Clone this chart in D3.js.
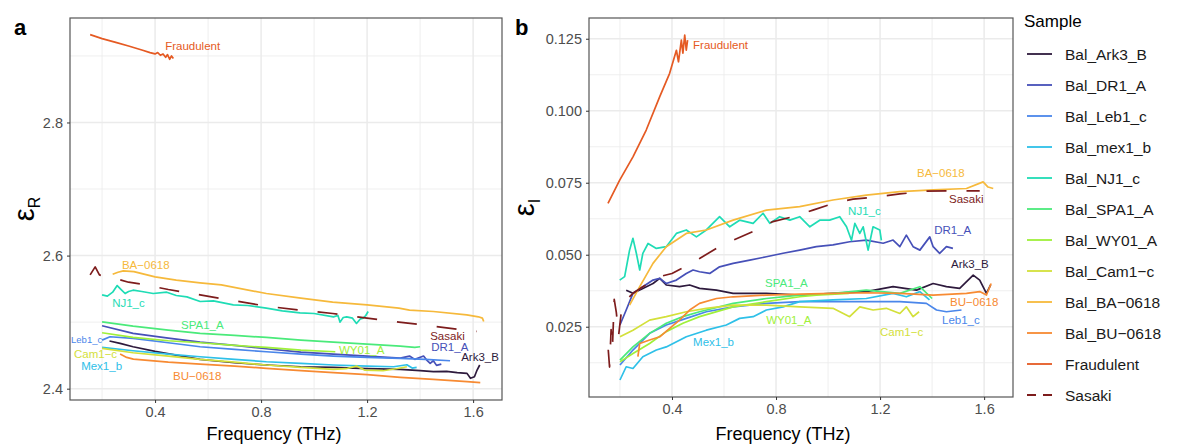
<!DOCTYPE html>
<html>
<head>
<meta charset="utf-8">
<script src="https://cdn.jsdelivr.net/npm/d3@7"></script>
<style>
  body { margin: 0; background: #fff; }
  svg { display: block; font-family: "Liberation Sans", Arial, Helvetica, sans-serif; }
</style>
</head>
<body>
<svg id="chart" width="1179" height="447"></svg>
<script>
const samples = ["Bal_Ark3_B", "Bal_DR1_A", "Bal_Leb1_c", "Bal_mex1_b", "Bal_NJ1_c", "Bal_SPA1_A",
  "Bal_WY01_A", "Bal_Cam1-c", "Bal_BA-0618", "Bal_BU-0618", "Fraudulent", "Sasaki"];
const colors = ["#2e1a3d", "#4650b8", "#4a86ea", "#2ec0e8", "#1fdcb5", "#4aea7a",
  "#9ff03a", "#d3e03a", "#f6b93b", "#f78a32", "#e55a23", "#7d1c1c"];

const freqTicks = [0.4, 0.8, 1.2, 1.6];
const freqMinor = [0.2, 0.6, 1.0, 1.4];
const erTicks = [2.4, 2.6, 2.8];
const erMinor = [2.5, 2.7, 2.9];
const eiTicks = [0.025, 0.05, 0.075, 0.1, 0.125];
const eiMinor = [0.0125, 0.0375, 0.0625, 0.0875, 0.1125];

// panel a: real permittivity [THz, eps_R]
const erArk3 = [[0.228,2.4716],[0.268,2.468],[0.317,2.463],[0.4,2.456],[0.5,2.449],[0.57,2.444],[0.7,2.439],[0.82,2.4356],[0.95,2.433],[1.073,2.432],[1.2,2.43],[1.325,2.429],[1.4,2.427],[1.45,2.4255],[1.5,2.426],[1.54,2.424],[1.577,2.423],[1.59,2.4156],[1.605,2.418],[1.615,2.428],[1.625,2.4356]];
const erDR1 = [[0.2,2.4945],[0.317,2.483],[0.45,2.476],[0.57,2.47],[0.7,2.465],[0.82,2.46],[0.95,2.455],[1.073,2.452],[1.2,2.449],[1.325,2.446],[1.36,2.449],[1.38,2.444],[1.413,2.449],[1.425,2.443],[1.438,2.438],[1.45,2.442],[1.462,2.435],[1.48,2.437]];
const erLeb1 = [[0.2,2.473],[0.23,2.478],[0.317,2.4756],[0.45,2.469],[0.57,2.463],[0.7,2.459],[0.82,2.4555],[0.95,2.452],[1.073,2.449],[1.2,2.447],[1.325,2.4456],[1.42,2.444],[1.513,2.442]];
const erMex1 = [[0.2,2.462],[0.317,2.457],[0.45,2.452],[0.57,2.448],[0.7,2.444],[0.82,2.4405],[0.95,2.438],[1.073,2.4356],[1.2,2.434],[1.3,2.433],[1.35,2.436],[1.37,2.431],[1.387,2.432]];
const erNJ1 = [[0.2,2.541],[0.22,2.539],[0.24,2.545],[0.257,2.555],[0.272,2.549],[0.287,2.543],[0.3,2.546],[0.317,2.548],[0.35,2.546],[0.393,2.543],[0.444,2.545],[0.48,2.54],[0.52,2.538],[0.57,2.531],[0.62,2.532],[0.695,2.526],[0.75,2.525],[0.82,2.521],[0.88,2.517],[0.947,2.514],[1.0,2.513],[1.073,2.508],[1.09,2.51],[1.098,2.5],[1.11,2.507],[1.123,2.508],[1.145,2.506],[1.16,2.498],[1.175,2.505],[1.185,2.506],[1.195,2.51],[1.204,2.516]];
const erSPA1 = [[0.2,2.5005],[0.317,2.494],[0.45,2.488],[0.57,2.483],[0.7,2.48],[0.82,2.477],[0.95,2.473],[1.073,2.47],[1.2,2.467],[1.325,2.464],[1.38,2.462],[1.4,2.463]];
const erWY01 = [[0.2,2.484],[0.317,2.477],[0.45,2.472],[0.57,2.469],[0.7,2.465],[0.82,2.462],[0.95,2.458],[1.08,2.4555]];
const erCam1 = [[0.2,2.4606],[0.317,2.454],[0.45,2.449],[0.57,2.444],[0.7,2.44],[0.82,2.4356],[0.95,2.432],[1.073,2.429],[1.12,2.43],[1.16,2.434],[1.19,2.428],[1.26,2.427],[1.31,2.43],[1.35,2.433]];
const erBA = [[0.24,2.572],[0.26,2.575],[0.28,2.577],[0.32,2.576],[0.4,2.568],[0.48,2.563],[0.57,2.559],[0.65,2.556],[0.82,2.543],[0.95,2.536],[1.07,2.53],[1.2,2.526],[1.32,2.521],[1.36,2.518],[1.45,2.516],[1.576,2.511],[1.62,2.508],[1.635,2.506],[1.64,2.501]];
const erBU = [[0.268,2.452],[0.293,2.447],[0.318,2.4445],[0.45,2.44],[0.57,2.437],[0.7,2.434],[0.82,2.4306],[0.95,2.427],[1.073,2.424],[1.2,2.421],[1.325,2.417],[1.45,2.414],[1.577,2.4105],[1.627,2.409]];
const erFraud = [[0.155,2.932],[0.2,2.926],[0.255,2.92],[0.3,2.915],[0.35,2.909],[0.381,2.905],[0.4,2.903],[0.41,2.905],[0.42,2.901],[0.43,2.903],[0.44,2.898],[0.447,2.902],[0.455,2.895],[0.462,2.9],[0.469,2.896]];
const erSasaki = [[0.155,2.571],[0.174,2.583],[0.19,2.571],[0.22,2.567],[0.264,2.564],[0.3,2.56],[0.35,2.557],[0.45,2.549],[0.57,2.541],[0.7,2.532],[0.82,2.524],[0.95,2.518],[1.07,2.513],[1.2,2.506],[1.32,2.5],[1.45,2.494],[1.55,2.489],[1.614,2.486]];

// panel b: imaginary permittivity [THz, eps_I]
const eiArk3 = [[0.224,0.0377],[0.25,0.0366],[0.288,0.0383],[0.327,0.04],[0.353,0.0418],[0.378,0.0395],[0.429,0.0389],[0.468,0.0395],[0.506,0.0383],[0.571,0.0377],[0.635,0.0366],[0.763,0.0366],[0.891,0.036],[1.019,0.0366],[1.147,0.0372],[1.25,0.0389],[1.34,0.0377],[1.404,0.04],[1.455,0.0389],[1.506,0.0383],[1.558,0.0429],[1.583,0.0412],[1.609,0.0366],[1.625,0.0395]];
const eiDR1 = [[0.2,0.0256],[0.224,0.0308],[0.25,0.0366],[0.288,0.0389],[0.327,0.0412],[0.353,0.0418],[0.378,0.04],[0.417,0.0412],[0.455,0.0435],[0.481,0.0447],[0.506,0.0441],[0.545,0.0435],[0.583,0.0458],[0.635,0.047],[0.699,0.0481],[0.763,0.0493],[0.827,0.0505],[0.891,0.0516],[0.955,0.0528],[1.019,0.0534],[1.083,0.0545],[1.147,0.0551],[1.212,0.054],[1.25,0.0551],[1.276,0.0528],[1.301,0.0568],[1.327,0.0528],[1.353,0.0516],[1.391,0.0562],[1.404,0.0528],[1.429,0.0505],[1.455,0.0528],[1.48,0.0522]];
const eiLeb1 = [[0.2,0.0117],[0.25,0.0169],[0.314,0.0227],[0.378,0.0256],[0.455,0.0279],[0.532,0.0302],[0.635,0.0319],[0.763,0.0331],[0.891,0.0337],[1.019,0.0337],[1.147,0.0337],[1.276,0.0337],[1.378,0.0331],[1.417,0.0308],[1.455,0.0302],[1.513,0.0308]];
const eiMex1 = [[0.2,0.0065],[0.224,0.0111],[0.25,0.0105],[0.288,0.0146],[0.34,0.0169],[0.378,0.018],[0.455,0.0215],[0.532,0.0238],[0.609,0.0256],[0.66,0.0279],[0.712,0.0285],[0.763,0.0308],[0.827,0.0319],[0.891,0.0337],[1.019,0.0343],[1.147,0.0348],[1.25,0.0366],[1.301,0.0354],[1.353,0.0372],[1.39,0.0343]];
const eiNJ1 = [[0.199,0.0412],[0.218,0.0424],[0.237,0.0516],[0.25,0.0557],[0.263,0.0505],[0.276,0.0447],[0.288,0.0505],[0.308,0.0539],[0.34,0.0522],[0.378,0.0528],[0.417,0.0574],[0.455,0.0586],[0.494,0.0562],[0.532,0.0586],[0.583,0.0632],[0.622,0.0597],[0.66,0.062],[0.712,0.0609],[0.75,0.0644],[0.776,0.0609],[0.814,0.0632],[0.853,0.062],[0.891,0.0632],[0.93,0.0597],[0.968,0.062],[1.006,0.062],[1.045,0.0632],[1.071,0.0597],[1.09,0.055],[1.103,0.0609],[1.122,0.0574],[1.135,0.0597],[1.154,0.0516],[1.173,0.0597],[1.199,0.0586],[1.205,0.055]];
const eiSPA1 = [[0.2,0.0134],[0.25,0.018],[0.314,0.0227],[0.378,0.0262],[0.442,0.0285],[0.506,0.0302],[0.635,0.0331],[0.763,0.0348],[0.891,0.036],[1.019,0.0366],[1.147,0.0377],[1.276,0.0366],[1.353,0.0389],[1.4,0.0348]];
const eiWY01 = [[0.2,0.0128],[0.25,0.0157],[0.314,0.0192],[0.378,0.0233],[0.442,0.0262],[0.506,0.0285],[0.635,0.0319],[0.763,0.0337],[0.891,0.0354],[0.955,0.036],[1.08,0.0366]];
const eiCam1 = [[0.2,0.0215],[0.25,0.0238],[0.314,0.0273],[0.378,0.0285],[0.455,0.0302],[0.532,0.0314],[0.635,0.0325],[0.763,0.0325],[0.891,0.0319],[1.019,0.0314],[1.083,0.0285],[1.122,0.0319],[1.173,0.0308],[1.224,0.0314],[1.276,0.0296],[1.301,0.0319],[1.327,0.0285],[1.35,0.0302]];
const eiBA = [[0.237,0.0325],[0.276,0.0389],[0.327,0.047],[0.378,0.0528],[0.455,0.0574],[0.532,0.0586],[0.635,0.062],[0.763,0.0655],[0.891,0.0667],[1.019,0.069],[1.147,0.0707],[1.276,0.0719],[1.404,0.0725],[1.532,0.073],[1.596,0.0753],[1.615,0.0735],[1.635,0.073]];
const eiBU = [[0.269,0.0146],[0.276,0.0192],[0.314,0.0204],[0.353,0.0215],[0.391,0.0244],[0.429,0.0273],[0.468,0.0308],[0.506,0.0331],[0.571,0.0348],[0.635,0.0354],[0.763,0.036],[0.891,0.0363],[1.019,0.0366],[1.147,0.0368],[1.276,0.0366],[1.404,0.036],[1.532,0.0366],[1.583,0.0372],[1.609,0.036],[1.627,0.04]];
const eiFraud = [[0.154,0.0678],[0.199,0.0759],[0.25,0.084],[0.301,0.0933],[0.353,0.1049],[0.391,0.113],[0.417,0.121],[0.425,0.117],[0.436,0.1245],[0.442,0.12],[0.449,0.1263],[0.455,0.121],[0.46,0.1245]];
const eiSasaki = [[0.155,0.017],[0.16,0.011],[0.166,0.024],[0.171,0.0175],[0.178,0.0345],[0.186,0.03],[0.195,0.022],[0.205,0.03],[0.22,0.034],[0.25,0.0366],[0.288,0.0389],[0.353,0.0424],[0.4,0.0435],[0.449,0.0458],[0.506,0.0487],[0.571,0.0522],[0.635,0.055],[0.724,0.0586],[0.788,0.0615],[0.865,0.0632],[0.942,0.0655],[1.019,0.0678],[1.096,0.0693],[1.186,0.0701],[1.276,0.0711],[1.378,0.0721],[1.506,0.0722],[1.583,0.0722]];

const erData = [erArk3, erDR1, erLeb1, erMex1, erNJ1, erSPA1, erWY01, erCam1, erBA, erBU, erFraud, erSasaki];
const eiData = [eiArk3, eiDR1, eiLeb1, eiMex1, eiNJ1, eiSPA1, eiWY01, eiCam1, eiBA, eiBU, eiFraud, eiSasaki];

// direct labels: [sample index, text, freq, value]
const erLabels = [[10,"Fraudulent",0.438,2.9155],[8,"BA\u22120618",0.275,2.5855],[4,"NJ1_c",0.238,2.5285],[5,"SPA1_A",0.498,2.4955],
  [2,"Leb1_c",0.083,2.473],[7,"Cam1\u2212c",0.094,2.452],[3,"Mex1_b",0.121,2.434],[9,"BU\u22120618",0.468,2.419],
  [6,"WY01_A",1.094,2.458],[11,"Sasaki",1.438,2.479],[1,"DR1_A",1.442,2.4625],[0,"Ark3_B",1.555,2.4475]];
const eiLabels = [[10,"Fraudulent",0.481,0.1228],[8,"BA\u22120618",1.342,0.0784],[11,"Sasaki",1.465,0.0693],[4,"NJ1_c",1.077,0.0652],
  [1,"DR1_A",1.408,0.0586],[0,"Ark3_B",1.473,0.0468],[5,"SPA1_A",0.758,0.0402],[9,"BU\u22120618",1.469,0.0336],
  [6,"WY01_A",0.762,0.0273],[2,"Leb1_c",1.438,0.0273],[7,"Cam1\u2212c",1.2,0.0232],[3,"Mex1_b",0.481,0.0197]];

const svg = d3.select("#chart");
const gridCol = "#ebebeb";

function panel(opt) {
  const x = d3.scaleLinear().domain(opt.xDomain).range([opt.left, opt.right]);
  const y = d3.scaleLinear().domain(opt.yDomain).range([opt.bottom, opt.top]);
  const g = svg.append("g");

  // grid
  g.selectAll(".vminor").data(freqMinor).join("line")
    .attr("x1", d => x(d)).attr("x2", d => x(d)).attr("y1", opt.top).attr("y2", opt.bottom)
    .attr("stroke", gridCol).attr("stroke-width", 0.8);
  g.selectAll(".hminor").data(opt.yMinor).join("line")
    .attr("x1", opt.left).attr("x2", opt.right).attr("y1", d => y(d)).attr("y2", d => y(d))
    .attr("stroke", gridCol).attr("stroke-width", 0.8);
  g.selectAll(".vmajor").data(freqTicks).join("line")
    .attr("x1", d => x(d)).attr("x2", d => x(d)).attr("y1", opt.top).attr("y2", opt.bottom)
    .attr("stroke", gridCol).attr("stroke-width", 1.5);
  g.selectAll(".hmajor").data(opt.yTicks).join("line")
    .attr("x1", opt.left).attr("x2", opt.right).attr("y1", d => y(d)).attr("y2", d => y(d))
    .attr("stroke", gridCol).attr("stroke-width", 1.5);

  // lines
  const line = d3.line().x(d => x(d[0])).y(d => y(d[1]));
  opt.data.forEach((s, i) => {
    g.append("path")
      .attr("d", line(s))
      .attr("fill", "none")
      .attr("stroke", colors[i])
      .attr("stroke-width", 1.7)
      .attr("stroke-linejoin", "round")
      .attr("stroke-dasharray", samples[i] === "Sasaki" ? "20,20" : null);
  });

  // labels
  opt.labels.forEach(([i, t, fx, fy]) => {
    g.append("text")
      .text(t)
      .attr("x", x(fx))
      .attr("y", y(fy))
      .attr("dy", "0.35em")
      .attr("fill", colors[i])
      .style("font-size", t === "Leb1_c" && opt.small ? "9.5px" : "11.5px");
  });

  // border
  g.append("rect")
    .attr("x", opt.left).attr("y", opt.top)
    .attr("width", opt.right - opt.left).attr("height", opt.bottom - opt.top)
    .attr("fill", "none").attr("stroke", "#555").attr("stroke-width", 1.2);

  // axes
  const xAxis = g.append("g")
    .attr("transform", `translate(0,${opt.bottom})`)
    .call(d3.axisBottom(x).tickValues(freqTicks).tickFormat(d3.format(".1f")).tickSize(3).tickPadding(4));
  const yAxis = g.append("g")
    .attr("transform", `translate(${opt.left},0)`)
    .call(d3.axisLeft(y).tickValues(opt.yTicks).tickFormat(d3.format(opt.yFmt)).tickSize(3).tickPadding(4));
  [xAxis, yAxis].forEach(a => {
    a.select(".domain").remove();
    a.selectAll(".tick line").attr("stroke", "#333");
    a.selectAll(".tick text").attr("fill", "#4d4d4d").style("font-size", "14.5px").style("font-family", "inherit");
  });

  g.append("text")
    .text("Frequency (THz)")
    .attr("x", opt.xTitleX).attr("y", 440)
    .attr("text-anchor", "middle")
    .attr("fill", "#000")
    .style("font-size", "18px");

  const yt = g.append("text")
    .attr("transform", `translate(${opt.yTitleX},${(opt.top + opt.bottom) / 2}) rotate(-90)`)
    .attr("text-anchor", "middle")
    .attr("fill", "#000");
  yt.append("tspan").text("\u03b5").style("font-size", "29px");
  yt.append("tspan").text(opt.sub).attr("dy", 6).style("font-size", "16px");

  svg.append("text")
    .text(opt.letter)
    .attr("x", opt.letterX).attr("y", 35)
    .attr("fill", "#000")
    .style("font-size", "22px").style("font-weight", "700");
}

panel({
  left: 70, right: 502, top: 18, bottom: 400,
  xDomain: [0.079, 1.709], yDomain: [2.383, 2.957],
  yTicks: erTicks, yMinor: erMinor, yFmt: ".1f",
  data: erData, labels: erLabels, small: true,
  xTitleX: 274, yTitleX: 34, sub: "R", letter: "a", letterX: 14
});

panel({
  left: 589, right: 1013, top: 18, bottom: 397,
  xDomain: [0.081, 1.711], yDomain: [0.0006, 0.1322],
  yTicks: eiTicks, yMinor: eiMinor, yFmt: ".3f",
  data: eiData, labels: eiLabels, small: false,
  xTitleX: 783, yTitleX: 534, sub: "I", letter: "b", letterX: 515
});

// legend
const legend = svg.append("g");
legend.append("text")
  .text("Sample")
  .attr("x", 1024).attr("y", 27)
  .attr("fill", "#000")
  .style("font-size", "17px");

const ly = d3.scalePoint().domain(samples).range([54, 395]);
samples.forEach((s, i) => {
  legend.append("line")
    .attr("x1", 1027).attr("x2", 1052)
    .attr("y1", ly(s)).attr("y2", ly(s))
    .attr("stroke", colors[i]).attr("stroke-width", 1.8)
    .attr("stroke-dasharray", s === "Sasaki" ? "9,7" : null);
  legend.append("text")
    .text(s.replace(/-/g, "\u2212"))
    .attr("x", 1065).attr("y", ly(s))
    .attr("dy", "0.36em")
    .attr("fill", "#1a1a1a")
    .style("font-size", "15.5px");
});
</script>
</body>
</html>
